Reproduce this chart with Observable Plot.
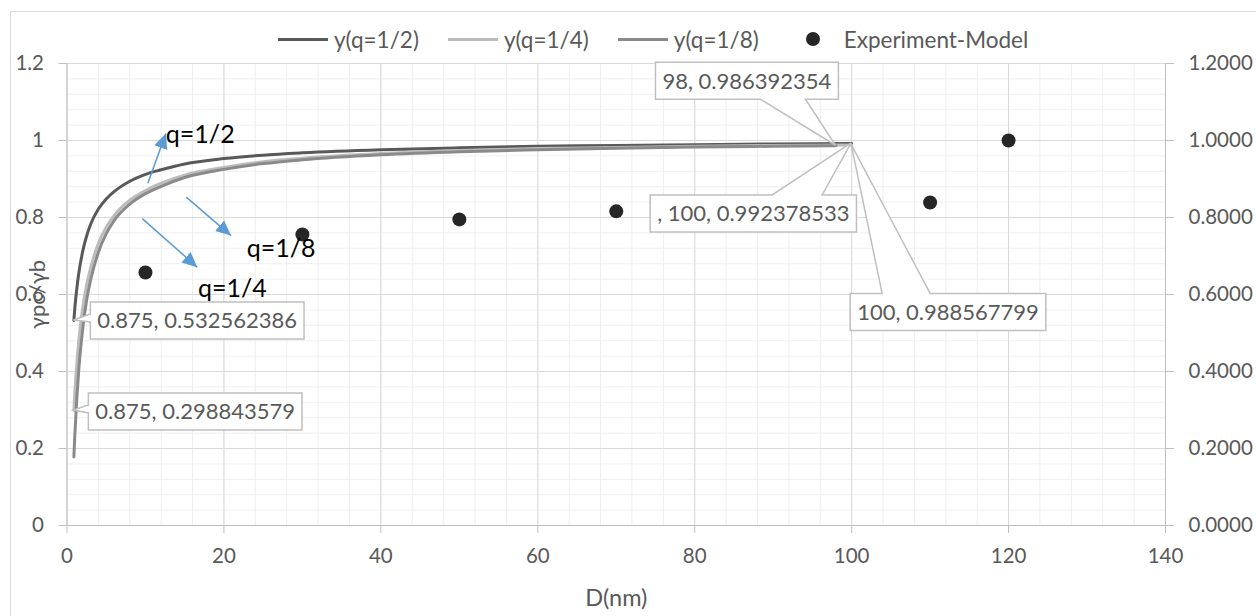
<!DOCTYPE html>
<html><head><meta charset="utf-8">
<script src="https://cdn.jsdelivr.net/npm/d3@7"></script>
<script src="https://cdn.jsdelivr.net/npm/@observablehq/plot@0.6"></script>
<style>
html,body{margin:0;padding:0;background:#fff;overflow:hidden;width:1256px;height:616px;font-family:Lato,sans-serif}
#wrap{position:relative;width:1256px;height:616px}
#chart{position:absolute;left:0;top:0}
#frame{position:absolute;left:10px;top:11px;width:1300px;height:700px;border:1px solid #d9d9d9;box-sizing:border-box;pointer-events:none}
#legend{position:absolute;left:278px;top:26px;height:26px;display:flex;align-items:center;gap:29px;font-size:22.5px;color:#595959;white-space:nowrap}
#legend .item{display:flex;align-items:center}
#legend .sw{width:50px;height:26px;position:relative;margin-right:6px}
#legend .ln{position:absolute;left:0;top:11.5px;width:50px;height:3px}
#legend .dt{position:absolute;left:18px;top:6px;width:14px;height:14px;border-radius:50%}
</style></head>
<body><div id="wrap"><div id="frame"></div><div id="chart"></div><div id="legend"></div></div>
<script>
// ---- data ----
const D = [0.875, 1, 1.25, 1.5, 2, 2.5, 3, 4, 5, 6, 8, 10, 12, 15, 20, 25, 30, 40, 50, 60, 70, 80, 90, 100];
const yHalf = [0.5326, 0.565, 0.615, 0.655, 0.712, 0.752, 0.782, 0.822, 0.848, 0.867, 0.894, 0.912, 0.924, 0.939, 0.953, 0.962, 0.968, 0.976, 0.981, 0.985, 0.987, 0.989, 0.991, 0.9924];
const yQuarter = [0.2988, 0.345, 0.42, 0.48, 0.565, 0.625, 0.668, 0.733, 0.775, 0.805, 0.845, 0.87, 0.889, 0.91, 0.93, 0.945, 0.954, 0.966, 0.974, 0.979, 0.982, 0.985, 0.987, 0.9886];
const D8 = [0.875, 1, 1.25, 1.5, 2, 2.5, 3, 4, 5, 6, 8, 10, 12, 15, 20, 25, 30, 40, 50, 60, 70, 80, 90, 98];
const yEighth = [0.178, 0.235, 0.33, 0.405, 0.51, 0.585, 0.637, 0.71, 0.758, 0.792, 0.835, 0.862, 0.881, 0.904, 0.925, 0.94, 0.95, 0.963, 0.971, 0.976, 0.98, 0.983, 0.985, 0.9864];
const expD = [10, 30, 50, 70, 110, 120];
const expY = [0.657, 0.756, 0.795, 0.816, 0.839, 1.0];
const seriesNames = ["y(q=1/2)", "y(q=1/4)", "y(q=1/8)"];
const expName = "Experiment-Model";
const xTicks = [0, 20, 40, 60, 80, 100, 120, 140];
const yTicks = [0, 0.2, 0.4, 0.6, 0.8, 1.0, 1.2];
const xTitle = "D(nm)";
const yTitle = "γpc/γb";
// data-label callouts
const calloutText = ["98, 0.986392354", ", 100, 0.992378533", "100, 0.988567799", "0.875, 0.532562386", "0.875, 0.298843579"];
const calloutX = [98, 100, 100, 0.875, 0.875];
const calloutY = [0.986392354, 0.992378533, 0.988567799, 0.532562386, 0.298843579];
// hand annotations (arrows + labels)
const arrowFromX = [10.3, 15.2, 9.6];
const arrowFromY = [0.889, 0.853, 0.797];
const arrowToX = [12.6, 20.9, 16.6];
const arrowToY = [1.018, 0.753, 0.671];
const annoText = ["q=1/2", "q=1/8", "q=1/4"];
const annoX = [12.6, 22.9, 16.7];
const annoY = [1.013, 0.717, 0.613];

// ---- styles ----
const colors = ["#595959", "#bcbcbc", "#8a8a8a"];
const dotColor = "#262626";
const txt = "#595959";

const rows = [
  ...D.map((d, i) => ({D: d, y: yHalf[i], s: seriesNames[0]})),
  ...D.map((d, i) => ({D: d, y: yQuarter[i], s: seriesNames[1]})),
  ...D8.map((d, i) => ({D: d, y: yEighth[i], s: seriesNames[2]}))
];
const exp = expD.map((d, i) => ({D: d, y: expY[i]}));
const arrows = arrowFromX.map((d, i) => ({x1: d, y1: arrowFromY[i], x2: arrowToX[i], y2: arrowToY[i]}));
const annos = annoText.map((t, i) => ({t, x: annoX[i], y: annoY[i]}));
const minorX = d3.range(0, 36).map(i => i * 4);
const minorY = d3.range(0, 31).map(i => +(i * 0.04).toFixed(2));

const chart = Plot.plot({
  width: 1256, height: 616,
  marginLeft: 66.5, marginRight: 91, marginTop: 63, marginBottom: 91,
  style: {fontFamily: "Lato, sans-serif", background: "transparent"},
  x: {domain: [0, 140]},
  y: {domain: [0, 1.2]},
  color: {domain: seriesNames, range: colors},
  marks: [
    Plot.gridX(minorX, {stroke: "#efefef", strokeOpacity: 1}),
    Plot.gridY(minorY, {stroke: "#efefef", strokeOpacity: 1}),
    Plot.gridX(xTicks, {stroke: "#d9d9d9", strokeOpacity: 1}),
    Plot.gridY(yTicks, {stroke: "#d9d9d9", strokeOpacity: 1}),
    Plot.axisX({ticks: xTicks, tickSize: 8, tickPadding: 15, stroke: "#bfbfbf", fill: txt, fontSize: 20.5, label: null, tickFormat: d => String(d)}),
    Plot.axisY({anchor: "left", ticks: yTicks, tickSize: 8, tickPadding: 15, stroke: "#bfbfbf", fill: txt, fontSize: 20.5, label: null, tickFormat: d => String(+d.toFixed(1))}),
    Plot.axisY({anchor: "right", ticks: yTicks, tickSize: 8, tickPadding: 15, stroke: "#bfbfbf", fill: txt, fontSize: 20.5, label: null, tickFormat: d3.format(".4f")}),
    Plot.ruleX([0], {stroke: "#bfbfbf"}),
    Plot.ruleX([140], {stroke: "#bfbfbf"}),
    Plot.ruleY([0], {stroke: "#bfbfbf", x1: 0, x2: 140}),
    Plot.text([xTitle], {frameAnchor: "bottom", lineAnchor: "middle", dy: 73, fontSize: 23.5, fill: txt}),
    Plot.text([yTitle], {frameAnchor: "left", textAnchor: "middle", lineAnchor: "middle", rotate: -90, dx: -29, fontSize: 22, fill: txt}),
    Plot.line(rows, {x: "D", y: "y", z: "s", stroke: "s", strokeWidth: 3, curve: "monotone-x"}),
    Plot.dot(exp, {x: "D", y: "y", r: 7, fill: dotColor}),
    Plot.link(arrows, {x1: "x1", y1: "y1", x2: "x2", y2: "y2", stroke: "#5b9bd5", strokeWidth: 1.5, markerEnd: "arrow"}),
    Plot.text(annos, {x: "x", y: "y", text: "t", textAnchor: "start", fontSize: 25, fill: "#000"})
  ]
});
document.getElementById("chart").appendChild(chart);

// filled arrowheads
chart.querySelectorAll("marker").forEach(m => {
  m.setAttribute("viewBox", "-12 -6 12 12");
  m.setAttribute("markerWidth", "10");
  m.setAttribute("markerHeight", "10");
  m.setAttribute("fill", "#5b9bd5");
  m.setAttribute("stroke", "none");
  m.innerHTML = '<path d="M-12,-5.5L0,0L-12,5.5Z"></path>';
});

// callouts (Excel-like data labels)
const sx = chart.scale("x"), sy = chart.scale("y");
// box offsets relative to anchor (px): dx, dy of box top-left; side of wedge and wedge base along edge
const calloutLayout = [
  {dx: -180, dy: -83, side: "bottom", b1: 105, b2: 150},
  {dx: -201, dy: 52, side: "top", b1: 122, b2: 172},
  {dx: -1, dy: 149, side: "top", b1: 32, b2: 80},
  {dx: 17, dy: -18, side: "left", b1: 12, b2: 20},
  {dx: 15, dy: -17, side: "left", b1: 12, b2: 20}
];
const svg = d3.select(chart);
const g = svg.append("g").attr("font-family", "Lato, sans-serif").attr("font-size", 22).attr("text-anchor", "start");
calloutText.forEach((t, i) => {
  const ax = sx.apply(calloutX[i]), ay = sy.apply(calloutY[i]);
  const L = calloutLayout[i];
  const grp = g.append("g");
  const path = grp.append("path");
  const text = grp.append("text").attr("fill", txt).attr("text-anchor", "start").text(t);
  const tw = text.node().getComputedTextLength();
  const padX = 7, h = 37;
  const w = tw + 2 * padX;
  const x0 = ax + L.dx, y0 = ay + L.dy, x1 = x0 + w, y1 = y0 + h;
  text.attr("x", x0 + padX).attr("y", y0 + h / 2).attr("dy", "0.36em");
  let p;
  if (L.side === "bottom") p = `M${x0},${y0}H${x1}V${y1}H${x0 + L.b2}L${ax},${ay}L${x0 + L.b1},${y1}H${x0}Z`;
  else if (L.side === "top") p = `M${x0},${y0}H${x0 + L.b1}L${ax},${ay}L${x0 + L.b2},${y0}H${x1}V${y1}H${x0}Z`;
  else p = `M${x0},${y0}H${x1}V${y1}H${x0}V${y0 + L.b2}L${ax},${ay}L${x0},${y0 + L.b1}Z`;
  path.attr("d", p).attr("fill", "#fff").attr("stroke", "#bfbfbf").attr("stroke-width", 1.5);
});

// legend
const legend = d3.select("#legend");
seriesNames.forEach((n, i) => {
  const it = legend.append("div").attr("class", "item");
  it.append("div").attr("class", "sw").append("div").attr("class", "ln").style("background", colors[i]);
  it.append("span").text(n);
});
{
  const it = legend.append("div").attr("class", "item");
  it.append("div").attr("class", "sw").append("div").attr("class", "dt").style("background", dotColor);
  it.append("span").text(expName);
}
</script>
</body></html>
